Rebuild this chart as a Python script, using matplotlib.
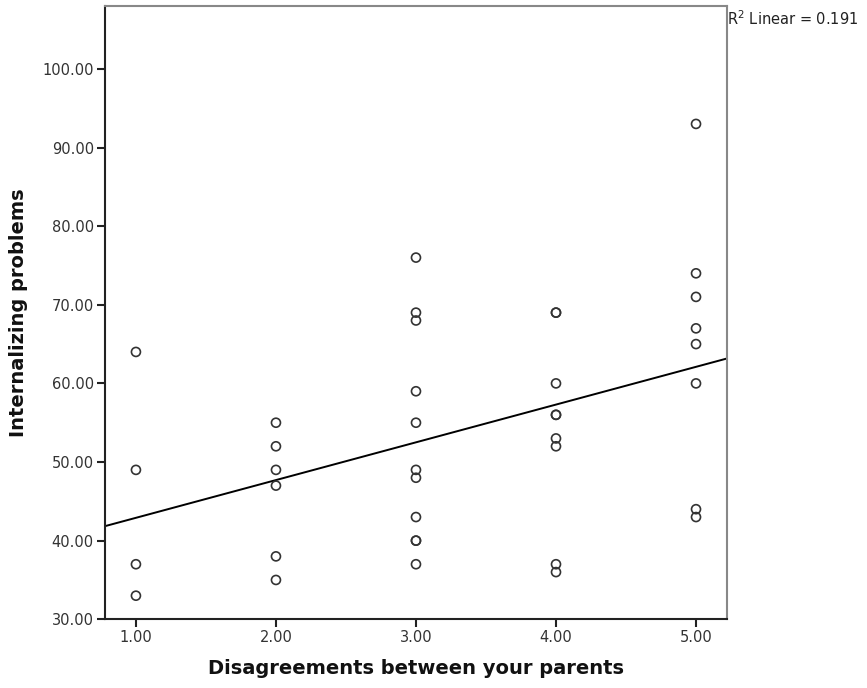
import numpy as np
import matplotlib
matplotlib.use("Agg")
import matplotlib.pyplot as plt

# values (duplicates repeated)
x1 = [1, 1, 1, 1]
y1 = [64, 49, 37, 33]
x2 = [2, 2, 2, 2, 2, 2]
y2 = [55, 52, 49, 47, 38, 35]
x3 = [3] * 11
y3 = [76, 69, 68, 59, 55, 49, 48, 43, 40, 40, 37]
x4 = [4] * 9
y4 = [69, 69, 60, 56, 56, 53, 52, 37, 36]
x5 = [5] * 8
y5 = [93, 74, 71, 67, 65, 60, 44, 43]

xticks = [1, 2, 3, 4, 5]
yticks = [30, 40, 50, 60, 70, 80, 90, 100]

x = np.array(x1 + x2 + x3 + x4 + x5, dtype=float)
y = np.array(y1 + y2 + y3 + y4 + y5, dtype=float)

# linear fit, same as the SPSS fit line
slope, intercept = np.polyfit(x, y, 1)
r2 = np.corrcoef(x, y)[0, 1] ** 2

fig = plt.figure(figsize=(8.67, 6.88), dpi=100)
ax = fig.add_axes([0.1211, 0.0999, 0.7169, 0.8914])

ax.scatter(x, y, s=42, facecolors='none', edgecolors='#333333', linewidths=1.2, zorder=3)

xmin, xmax = 0.779, 5.218
xs = np.array([xmin, xmax])
ax.plot(xs, intercept + slope * xs, color='black', lw=1.4, zorder=2)

ax.set_xlim(xmin, xmax)
ax.set_ylim(30, 108)
ax.set_xticks(xticks)
ax.set_xticklabels([f"{v:.2f}" for v in xticks])
ax.set_yticks(yticks)
ax.set_yticklabels([f"{v:.2f}" for v in yticks])

for side in ['left', 'bottom']:
    ax.spines[side].set_color('#222222')
    ax.spines[side].set_linewidth(1.5)
for side in ['top', 'right']:
    ax.spines[side].set_color('#888888')
    ax.spines[side].set_linewidth(1.5)

ax.tick_params(direction='out', length=6, width=1.5, color='#222222',
               labelsize=10.5, labelcolor='#333333', pad=2)

ax.set_xlabel('Disagreements between your parents', fontsize=14, fontweight='bold',
              color='#111111', labelpad=10)
ax.set_ylabel('Internalizing problems', fontsize=14, fontweight='bold',
              color='#111111', labelpad=10)

fig.text(0.8385, 0.973, f"R$^2$ Linear = {r2:.3f}", fontsize=10.5, color='#222222',
         ha='left', va='center')

fig.savefig('out.png', dpi=100)
